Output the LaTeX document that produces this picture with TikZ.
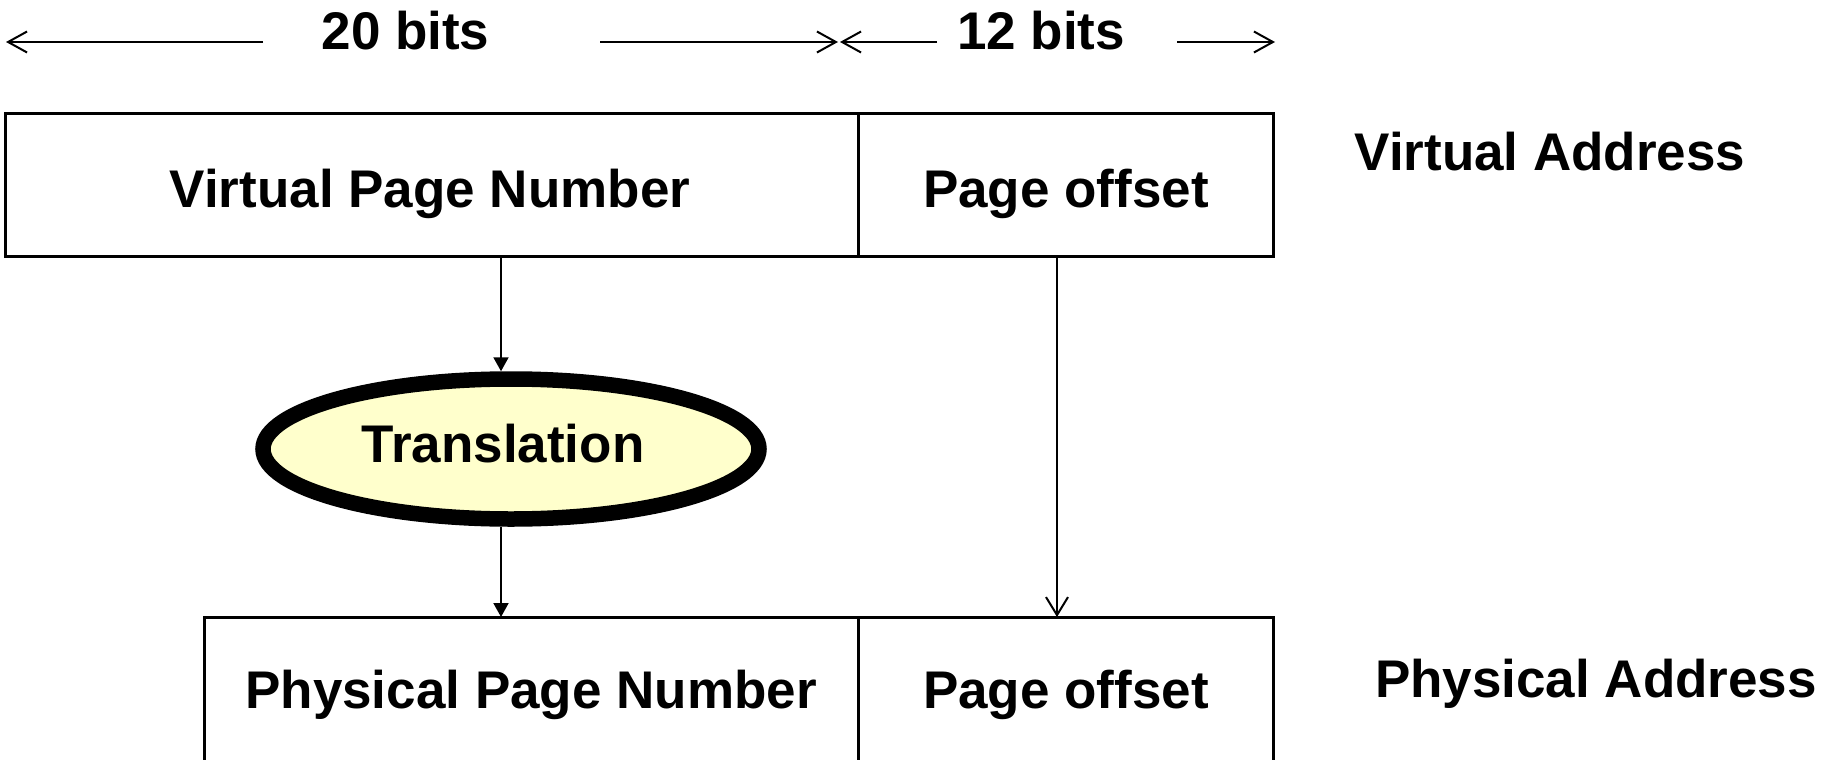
\documentclass[tikz,border=0pt]{standalone}
\usepackage{fontspec}
\setmainfont{Liberation Sans}
\usetikzlibrary{arrows.meta,shapes.geometric}
\definecolor{transfill}{RGB}{255,255,204}
\begin{document}
\begin{tikzpicture}[x=1bp,y=-1bp,
  field/.style={draw, line width=3bp, rectangle, inner sep=0pt, outer sep=0pt},
  lbl/.style={anchor=base, inner sep=0pt, font=\fontsize{53bp}{64bp}\selectfont\bfseries},
  dimarrow/.style={line width=2bp, -{Straight Barb[length=19bp,width=21bp]}},
  flow/.style={line width=2bp, -{Triangle[length=14bp,width=15bp]}},
  passarrow/.style={line width=2bp, -{Straight Barb[length=18bp,width=22bp]}}]
\useasboundingbox (0,0) rectangle (1835,760);
\clip (0,0) rectangle (1835,760);

% address fields
\node[field, minimum width=852.5bp, minimum height=142bp] (vpn)  at (431.75,185) {};
\node[field, minimum width=415.5bp, minimum height=142bp] (vofs) at (1065.75,185) {};
\node[field, minimum width=653.5bp, minimum height=183bp] (ppn)  at (531.25,708.5) {};
\node[field, minimum width=415.5bp, minimum height=183bp] (pofs) at (1065.75,708.5) {};

% translation step
\node[draw, ellipse, line width=15.5bp, fill=transfill, inner sep=0pt,
      minimum width=496bp, minimum height=140bp] (trans) at (511,449) {};

% labels
\node[lbl] (bits20)   at (405.5,50)  {20 bits};
\node[lbl] (bits12)   at (1041,50)   {12 bits};
\node[lbl] (vpnlbl)   at (430,207)   {Virtual Page Number};
\node[lbl] (vofslbl)  at (1066,207)  {Page offset};
\node[lbl] (valbl)    at (1550,170)  {Virtual Address};
\node[lbl] (translbl) at (503,462)   {Translation};
\node[lbl] (ppnlbl)   at (531,708)   {Physical Page Number};
\node[lbl] (pofslbl)  at (1066,708)  {Page offset};
\node[lbl] (palbl)    at (1596,697)  {Physical Address};

% bit-width dimension arrows
\coordinate (d20l)  at (263,42);
\coordinate (d20lt) at (6,42);
\coordinate (d20r)  at (600,42);
\coordinate (d20rt) at (838,42);
\coordinate (d12l)  at (937,42);
\coordinate (d12lt) at (840,42);
\coordinate (d12r)  at (1177,42);
\coordinate (d12rt) at (1275,42);
\draw[dimarrow] (d20l) -- (d20lt);
\draw[dimarrow] (d20r) -- (d20rt);
\draw[dimarrow] (d12l) -- (d12lt);
\draw[dimarrow] (d12r) -- (d12rt);

% data flow
\coordinate (vx) at (501,0);
\coordinate (ox) at (1057,0);
\draw[flow] (vpn.south -| vx) -- (trans.north -| vx);
\draw[flow] (trans.south -| vx) -- (ppn.north -| vx);
\draw[passarrow] (vofs.south -| ox) -- (pofs.north -| ox);
\end{tikzpicture}
\end{document}
